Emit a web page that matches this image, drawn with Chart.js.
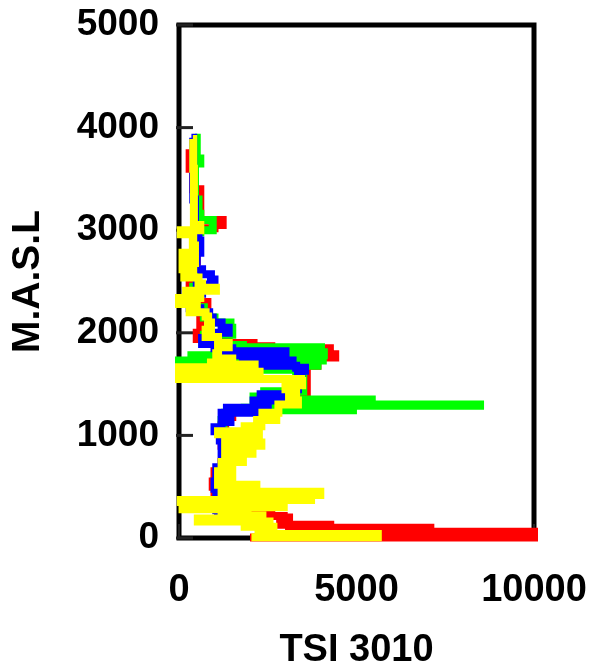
<!DOCTYPE html>
<html><head><meta charset="utf-8">
<script src="https://cdn.jsdelivr.net/npm/chart.js@4.4.0/dist/chart.umd.min.js"></script>
<style>html,body{margin:0;padding:0;background:#fff;}#wrap{width:590px;height:665px;}</style>
</head><body><div id="wrap"><canvas id="c" width="590" height="665"></canvas></div>
<script>
const yTickValues = [0, 1000, 2000, 3000, 4000, 5000];
const xTickValues = [0, 5000, 10000];
const xTitle = 'TSI 3010';
const yTitle = 'M.A.S.L';

const yellowAlt = [3890,3600,3300,3050,3000,2960,2920,2850,2780,2720,2680,2620,2580,2540,2480,2440,2410,2380,2340,2280,2250,2200,2160,2100,2030,1960,1900,1860,1800,1750,1710,1690,1665,1620,1600,1550,1530,1490,1450,1400,1340,1300,1220,1190,1150,1120,1090,1075,1040,1010,970,930,900,860,820,790,740,700,650,600,560,520,480,450,420,400,370,350,300,280,250,220,190,160,130,110,70,40,8,8];
const yellowTsi = [390,400,420,420,600,50,400,390,450,100,450,100,400,150,550,650,1040,200,600,0,500,300,750,820,900,750,1100,1400,1100,1050,1500,900,2130,0,2270,0,3440,3470,3000,3300,3100,3350,2800,2350,2740,2200,2320,1850,2200,1100,2250,1300,2320,1300,2070,1300,1800,1200,1500,1100,1500,1100,2180,1200,3980,1200,3720,50,2950,100,1930,1200,2350,530,2550,1850,2660,2240,5600,2040];

const blueAlt = [3900,3600,3300,3050,2900,2780,2700,2620,2570,2520,2470,2420,2380,2300,2240,2200,2150,2100,2050,2000,1950,1890,1850,1820,1800,1780,1760,1730,1700,1680,1660,1630,1590,1560,1500,1450,1400,1370,1340,1300,1270,1240,1220,1190,1130,1080,1040,1010,950,880,820,750,690,620,550,480,420,340,270,220];
const blueTsi = [350,400,400,450,550,600,500,450,650,900,1000,500,650,400,300,600,850,950,1200,1400,1100,650,1000,1500,3000,1300,3000,1800,3200,2200,3300,3550,3350,3450,3400,3350,3300,2300,3150,2100,2500,1350,2200,1200,1450,1200,1000,1300,1150,1300,1200,1200,1250,1050,1150,1000,1200,1050,1050,1100];

const greenAlt = [3900,3700,3650,3500,3300,3160,3100,3000,2980,2900,2700,2600,2450,2350,2250,2150,2100,2050,1980,1930,1880,1860,1830,1810,1780,1750,1730,1700,1680,1660,1640,1620,1560,1500,1430,1400,1380,1350,1345,1300,1290,1270,1260,1245,1220,1150,1080,1000,900,800,750,650,580,480,400,320,250,200];
const greenTsi = [450,500,600,450,450,550,600,950,600,500,450,400,500,400,400,700,1000,1450,1500,700,1100,1800,4000,2000,4080,350,4050,0,3900,1000,2300,3300,3500,3400,3500,2400,3200,2100,5430,3300,8480,3300,1850,4900,1400,1300,1200,1250,1300,1400,1450,1350,1450,1200,1100,1100,1300,1350];

const redAlt = [3880,3750,3600,3400,3250,3100,3050,3020,2990,2800,2660,2420,2300,2180,2000,1940,1920,1900,1870,1850,1790,1760,1720,1680,1620,1580,1520,1470,1420,1350,1270,1230,1180,1100,1000,900,800,740,650,550,500,400,300,230,215,200,180,130,110,100,80,60,45,20,5,5];
const redTsi = [400,450,300,400,600,600,1230,1000,550,450,500,300,500,800,600,500,700,1400,2100,2600,4250,4400,3800,3900,3600,3400,3600,3500,3600,3300,2800,2200,1500,1300,1200,1200,1300,1450,1200,1000,950,1000,1100,1800,2600,2950,3100,2850,4260,3100,7080,3150,10000,5000,10000,2000];

function pts(xs, ys) { return xs.map((v, i) => ({ x: v, y: ys[i] })); }
function series(label, xs, ys, color) {
  return { label, data: pts(xs, ys), showLine: true, stepped: true, borderColor: color, backgroundColor: color,
    borderWidth: 8, pointRadius: 0, borderJoinStyle: 'miter', borderCapStyle: 'butt', clip: 5 };
}

const framePlugin = {
  id: 'frame',
  beforeDatasetsDraw(chart) {
    const { ctx, chartArea: a, scales: { x, y } } = chart;
    ctx.save();
    ctx.strokeStyle = '#000';
    ctx.lineWidth = 5;
    ctx.strokeRect(a.left, a.top, a.right - a.left, a.bottom - a.top);
    ctx.strokeStyle = '#222';
    ctx.lineWidth = 3;
    yTickValues.forEach(v => {
      const py = y.getPixelForValue(v);
      ctx.beginPath(); ctx.moveTo(a.left - 3, py); ctx.lineTo(a.left + 14, py); ctx.stroke();
    });
    ctx.lineWidth = 2;
    xTickValues.forEach(v => {
      const px = x.getPixelForValue(v);
      ctx.beginPath(); ctx.moveTo(px, a.bottom); ctx.lineTo(px, a.bottom - 14); ctx.stroke();
    });
    ctx.restore();
  }
};

function noPad(s) { s.paddingTop = 0; s.paddingBottom = 0; s.paddingLeft = 0; s.paddingRight = 0; }
const fontFam = '"Liberation Sans", Arial, sans-serif';
new Chart(document.getElementById('c'), {
  type: 'scatter',
  data: { datasets: [
    series('Yellow', yellowTsi, yellowAlt, '#ffff00'),
    series('Blue', blueTsi, blueAlt, '#0000ff'),
    series('Green', greenTsi, greenAlt, '#00ff00'),
    series('Red', redTsi, redAlt, '#ff0000')
  ] },
  options: {
    responsive: false, animation: false, devicePixelRatio: 1,
    layout: { padding: { top: 25, right: 56, left: 0, bottom: 0 } },
    plugins: { legend: { display: false }, tooltip: { enabled: false } },
    scales: {
      x: {
        type: 'linear', min: 0, max: 10000,
        afterBuildTicks: s => { s.ticks = xTickValues.map(v => ({ value: v })); },
        afterFit: s => { s.height = 127; noPad(s); },
        grid: { display: false, drawTicks: false },
        border: { display: false },
        ticks: { color: '#000', font: { family: fontFam, size: 38, weight: 'bold' }, padding: 30, maxRotation: 0, autoSkip: false, callback: v => String(v) },
        title: { display: true, text: xTitle, color: '#000', font: { family: fontFam, size: 38, weight: 'bold', lineHeight: 1 }, padding: { top: 0, bottom: -5 } }
      },
      y: {
        type: 'linear', min: 0, max: 5000,
        afterBuildTicks: s => { s.ticks = yTickValues.map(v => ({ value: v })); },
        afterFit: s => { s.width = 179; noPad(s); },
        grid: { display: false, drawTicks: false },
        border: { display: false },
        ticks: { color: '#000', font: { family: fontFam, size: 37, weight: 'bold' }, padding: 20, autoSkip: false, callback: v => String(v) },
        title: { display: true, text: yTitle, color: '#000', font: { family: fontFam, size: 39, weight: 'bold', lineHeight: 1 }, padding: 9 }
      }
    }
  },
  plugins: [framePlugin]
});
</script></body></html>
